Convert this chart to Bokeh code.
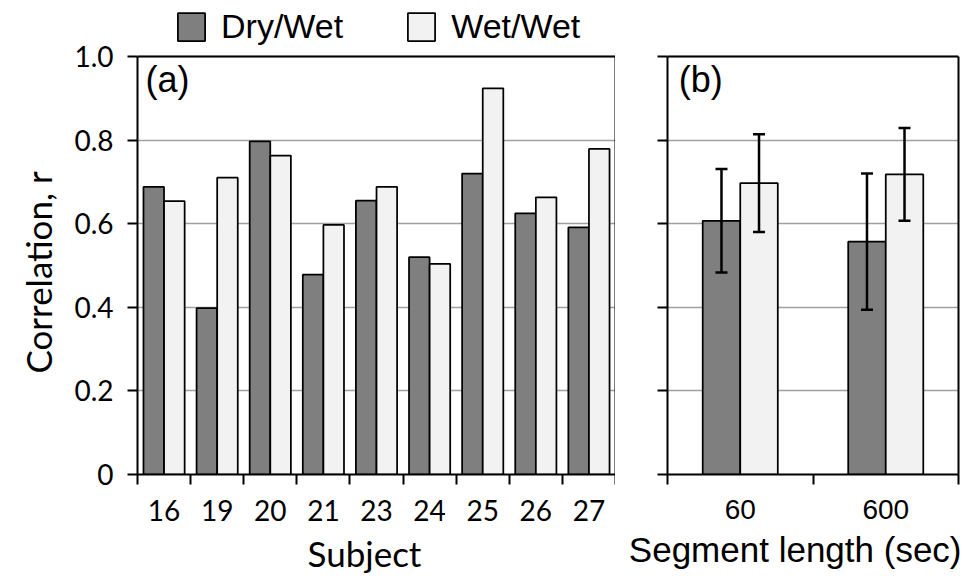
from bokeh.plotting import figure
from bokeh.models import (ColumnDataSource, Range1d, FixedTicker, Label, Whisker,
                          TeeHead, Title, Legend, LegendItem, LinearAxis, Span)
from bokeh.layouts import row
from bokeh.embed import file_html
from bokeh.resources import INLINE

# ---------------- data ----------------
subjects = ["16", "19", "20", "21", "23", "24", "25", "26", "27"]
dry_wet = [0.688, 0.398, 0.797, 0.478, 0.655, 0.520, 0.720, 0.625, 0.591]
wet_wet = [0.654, 0.710, 0.763, 0.597, 0.688, 0.504, 0.924, 0.663, 0.779]

segments = ["60", "600"]
seg_dry_mean = [0.607, 0.557]
seg_dry_err = [0.124, 0.163]
seg_wet_mean = [0.697, 0.718]
seg_wet_err = [0.117, 0.111]

y_ticks = [0, 0.2, 0.4, 0.6, 0.8, 1.0]
y_tick_labels = ["0", "0.2", "0.4", "0.6", "0.8", "1.0"]

series_names = ["Dry/Wet", "Wet/Wet"]

# ---------------- style ----------------
DARK = "#7f7f7f"
LIGHT = "#f2f2f2"
GRID = "#a0a0a0"
CAL = "Lato"
ARI = "Liberation Sans"
BOX_H = 418          # pixel height of the 0..1 plotting box
EXTRA_H = 54         # room above the box (inside the frame) for the legend
FRAME_H = BOX_H + EXTRA_H
Y_MAX = FRAME_H / BOX_H
TOP = 2
BOTTOM = 100


def base_style(p, n_cat, cat_labels, tick_font, tick_size, show_y_labels):
    p.background_fill_color = "white"
    p.border_fill_color = "white"
    p.outline_line_color = None
    p.xgrid.visible = False
    p.ygrid.grid_line_color = GRID
    p.ygrid.grid_line_width = 1.5

    ya = p.yaxis[0]
    ya.ticker = FixedTicker(ticks=y_ticks)
    ya.bounds = (0, 1)
    ya.axis_line_width = 2
    ya.axis_line_color = "black"
    ya.major_tick_out = 10
    ya.major_tick_in = 0
    ya.major_tick_line_width = 2
    ya.major_tick_line_color = "black"
    ya.minor_tick_line_color = None
    if show_y_labels:
        ya.major_label_overrides = {t: l for t, l in zip(y_ticks, y_tick_labels)}
        ya.major_label_text_font = CAL
        ya.major_label_text_font_size = "28px"
        ya.major_label_text_color = "black"
        ya.major_label_standoff = 14
    else:
        ya.major_label_overrides = {t: "" for t in y_ticks}
        ya.major_label_standoff = 0

    # right edge of the box
    ra = LinearAxis(ticker=FixedTicker(ticks=[]), bounds=(0, 1), axis_line_width=2,
                    axis_line_color="black", major_tick_out=0, major_tick_in=0,
                    minor_tick_out=0, minor_tick_in=0, major_tick_line_color=None,
                    minor_tick_line_color=None, major_label_standoff=0)
    p.add_layout(ra, "right")
    # top edge of the box
    p.add_layout(Span(location=1.0, dimension="width", line_color="black", line_width=2))

    xa = p.xaxis[0]
    centers = [i + 0.5 for i in range(n_cat)]
    xa.ticker = FixedTicker(ticks=centers, minor_ticks=list(range(n_cat + 1)))
    xa.major_label_overrides = {c: l for c, l in zip(centers, cat_labels)}
    xa.axis_line_width = 2
    xa.axis_line_color = "black"
    xa.major_tick_line_color = None
    xa.major_tick_out = 10
    xa.major_tick_in = 0
    xa.minor_tick_line_color = "black"
    xa.minor_tick_line_width = 2
    xa.minor_tick_out = 10
    xa.minor_tick_in = 0
    xa.major_label_text_font = tick_font
    xa.major_label_text_font_size = tick_size
    xa.major_label_text_color = "black"
    xa.major_label_standoff = 15


# ---------------- panel (a) ----------------
p1 = figure(frame_width=478, frame_height=FRAME_H, x_range=Range1d(0, len(subjects)),
            y_range=Range1d(0, Y_MAX), output_backend="svg", toolbar_location=None,
            min_border_left=137, min_border_right=0, min_border_top=TOP,
            min_border_bottom=BOTTOM)
base_style(p1, len(subjects), subjects, CAL, "28px", True)

p1.add_layout(Title(text="Correlation, r", align="left", offset=101, text_font=CAL,
                    text_font_size="35px", text_font_style="normal", text_color="black",
                    vertical_align="top", standoff=21), "left")

src1 = ColumnDataSource(dict(
    xd=[i + 0.5 - 0.194 for i in range(len(subjects))],
    xw=[i + 0.5 + 0.194 for i in range(len(subjects))],
    dry=dry_wet, wet=wet_wet))
r_dry = p1.vbar(x="xd", top="dry", bottom=0, width=0.3875, source=src1, fill_color=DARK,
                line_color="black", line_width=1.75)
r_wet = p1.vbar(x="xw", top="wet", bottom=0, width=0.3875, source=src1, fill_color=LIGHT,
                line_color="black", line_width=1.75)

lg = Legend(items=[LegendItem(label=series_names[0], renderers=[r_dry]),
                   LegendItem(label=series_names[1], renderers=[r_wet])],
            location=(37, 428), orientation="horizontal",
            label_text_font=ARI, label_text_font_size="34px", label_text_color="black",
            glyph_width=34, glyph_height=35, label_standoff=13, spacing=61,
            padding=0, margin=0, border_line_color=None, background_fill_alpha=0)
p1.add_layout(lg)

p1.add_layout(Label(x=0.15, y=0.995, text="(a)", text_baseline="top",
                    text_align="left", text_font=ARI, text_font_size="36px",
                    text_color="black"))

p1.add_layout(Title(text="Subject", align="left", offset=170, text_font=CAL,
                    text_font_size="35px", text_font_style="normal", text_color="black",
                    standoff=12), "below")

# ---------------- panel (b) ----------------
p2 = figure(frame_width=291, frame_height=FRAME_H, x_range=Range1d(0, len(segments)),
            y_range=Range1d(0, Y_MAX), output_backend="svg", toolbar_location=None,
            min_border_left=52, min_border_right=8, min_border_top=TOP,
            min_border_bottom=BOTTOM)
base_style(p2, len(segments), segments, ARI, "28px", False)

src2 = ColumnDataSource(dict(
    xd=[i + 0.5 - 0.129 for i in range(len(segments))],
    xw=[i + 0.5 + 0.129 for i in range(len(segments))],
    dry=seg_dry_mean, wet=seg_wet_mean,
    dry_up=[m + e for m, e in zip(seg_dry_mean, seg_dry_err)],
    dry_lo=[m - e for m, e in zip(seg_dry_mean, seg_dry_err)],
    wet_up=[m + e for m, e in zip(seg_wet_mean, seg_wet_err)],
    wet_lo=[m - e for m, e in zip(seg_wet_mean, seg_wet_err)]))
p2.vbar(x="xd", top="dry", bottom=0, width=0.258, source=src2, fill_color=DARK,
        line_color="black", line_width=1.75)
p2.vbar(x="xw", top="wet", bottom=0, width=0.258, source=src2, fill_color=LIGHT,
        line_color="black", line_width=1.75)

for b, u, l in (("xd", "dry_up", "dry_lo"), ("xw", "wet_up", "wet_lo")):
    w = Whisker(base=b, upper=u, lower=l, source=src2, line_color="black",
                line_width=2.5, level="overlay",
                upper_head=TeeHead(size=12, line_width=2.5, line_color="black"),
                lower_head=TeeHead(size=12, line_width=2.5, line_color="black"))
    p2.add_layout(w)

p2.add_layout(Label(x=0.077, y=0.995, text="(b)", text_baseline="top",
                    text_align="left", text_font=ARI, text_font_size="36px",
                    text_color="black"))

p2.add_layout(Title(text="Segment length (sec)", align="right", offset=-3, text_font=ARI,
                    text_font_size="35px", text_font_style="normal", text_color="black",
                    standoff=12), "below")

layout = row(p1, p2)
open("out.html", "w").write(file_html(layout, INLINE))
